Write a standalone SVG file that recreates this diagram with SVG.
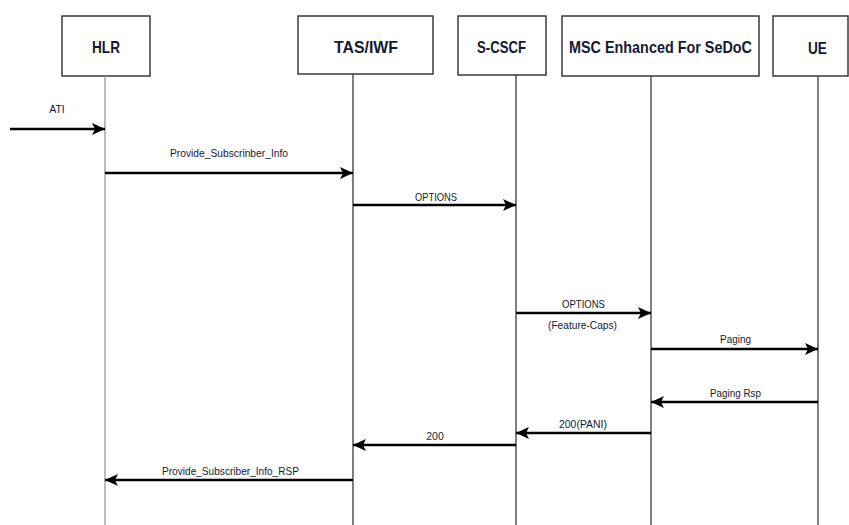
<svg xmlns="http://www.w3.org/2000/svg" width="849" height="525" viewBox="0 0 849 525">
<style>
.box{fill:#fff;stroke:#3a3a3a;stroke-width:1.5}
.hdr{font-family:"Liberation Sans",Arial,sans-serif;font-weight:bold;font-size:17px;fill:#141a33;text-anchor:middle}
.life{stroke:#3a3a3a;stroke-width:1.3;fill:none}
.msg{stroke:#000;stroke-width:2.6;fill:none;marker-end:url(#ah)}
.lbl{font-family:"Liberation Sans",Arial,sans-serif;font-size:10.5px;fill:#141a33;text-anchor:middle}
</style>
<defs>
<marker id="ah" markerUnits="userSpaceOnUse" markerWidth="14" markerHeight="14" viewBox="0 0 14 14" refX="13" refY="7" orient="auto">
<path d="M0,1 L13,7 L0,13 L3,7 z" fill="#000"/>
</marker>
</defs>
<rect width="849" height="525" fill="#fff"/>
<g id="HLR">
<rect class="box" x="62" y="16" width="88" height="60"/>
<text class="hdr" x="106" y="53" textLength="28" lengthAdjust="spacingAndGlyphs">HLR</text>
<line class="life" x1="105" y1="76" x2="105" y2="525" style="stroke:#9a9a9a"/>
</g>
<g id="TAS_IWF">
<rect class="box" x="298" y="16" width="135" height="58"/>
<text class="hdr" x="366" y="53" textLength="64" lengthAdjust="spacingAndGlyphs">TAS/IWF</text>
<line class="life" x1="353" y1="74" x2="353" y2="525"/>
</g>
<g id="S-CSCF">
<rect class="box" x="458" y="16" width="88" height="59"/>
<text class="hdr" x="501.5" y="53" textLength="49" lengthAdjust="spacingAndGlyphs">S-CSCF</text>
<line class="life" x1="516" y1="75" x2="516" y2="525"/>
</g>
<g id="MSC">
<rect class="box" x="562" y="16" width="197" height="60"/>
<text class="hdr" x="660.5" y="53" textLength="183" lengthAdjust="spacingAndGlyphs">MSC Enhanced For SeDoC</text>
<line class="life" x1="651" y1="76" x2="651" y2="525"/>
</g>
<g id="UE">
<rect class="box" x="773" y="16" width="75" height="60"/>
<text class="hdr" x="817.5" y="54" textLength="19" lengthAdjust="spacingAndGlyphs">UE</text>
<line class="life" x1="818" y1="76" x2="818" y2="525"/>
</g>
<g id="connectors">
<line class="msg" x1="10" y1="129" x2="105" y2="129"/>
<text class="lbl" x="57" y="113">ATI</text>
<line class="msg" x1="105" y1="173" x2="353" y2="173"/>
<text class="lbl" x="229" y="157" textLength="118" lengthAdjust="spacingAndGlyphs">Provide_Subscrinber_Info</text>
<line class="msg" x1="353" y1="205" x2="516" y2="205"/>
<text class="lbl" x="436" y="201" textLength="42" lengthAdjust="spacingAndGlyphs">OPTIONS</text>
<line class="msg" x1="516" y1="313" x2="651" y2="313"/>
<text class="lbl" x="583.5" y="308" textLength="43" lengthAdjust="spacingAndGlyphs">OPTIONS</text>
<text class="lbl" x="582.5" y="329" textLength="69" lengthAdjust="spacingAndGlyphs">(Feature-Caps)</text>
<line class="msg" x1="651" y1="349" x2="818" y2="349"/>
<text class="lbl" x="735.5" y="343" textLength="31" lengthAdjust="spacingAndGlyphs">Paging</text>
<line class="msg" x1="818" y1="402" x2="651" y2="402"/>
<text class="lbl" x="735.5" y="397" textLength="51" lengthAdjust="spacingAndGlyphs">Paging Rsp</text>
<line class="msg" x1="651" y1="433" x2="516" y2="433"/>
<text class="lbl" x="583" y="428" textLength="48" lengthAdjust="spacingAndGlyphs">200(PANI)</text>
<line class="msg" x1="516" y1="445" x2="353" y2="445"/>
<text class="lbl" x="435" y="440">200</text>
<line class="msg" x1="353" y1="480" x2="105" y2="480"/>
<text class="lbl" x="230.5" y="475" textLength="137" lengthAdjust="spacingAndGlyphs">Provide_Subscriber_Info_RSP</text>
</g>
</svg>
